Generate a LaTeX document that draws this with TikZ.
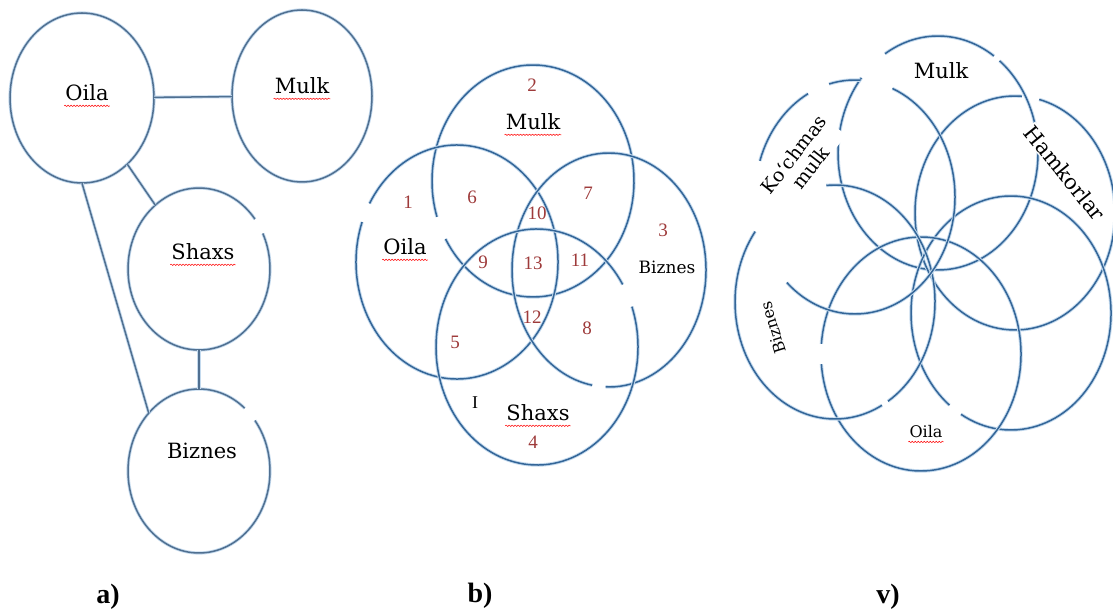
\documentclass[tikz,border=0pt]{standalone}
\usepackage{fontspec}
\setmainfont{DejaVu Serif}
\newfontfamily\libser{Liberation Serif}
\usetikzlibrary{shapes.geometric,decorations.pathmorphing}
\definecolor{lineA}{RGB}{80,112,145}
\definecolor{lineB}{RGB}{52,102,152}
\definecolor{halo}{RGB}{196,218,238}
\definecolor{numred}{RGB}{158,58,58}
\newcommand{\earc}[7]{\draw[#1] (#2,#3) ++(#6:#4pt and #5pt) arc[start angle=#6,end angle=#7,x radius=#4pt,y radius=#5pt];}
\begin{document}
\begin{tikzpicture}[x=1pt,y=1pt,
  bub/.style={ellipse,inner sep=0pt},
  lab/.style={font=\fontsize{21}{24}\selectfont, inner sep=1pt},
  num/.style={font=\libser\fontsize{19}{21}\selectfont, text=numred, inner sep=0pt},
  capt/.style={font=\libser\bfseries\fontsize{28}{30}\selectfont},
  squig/.style={draw=red, line width=0.5pt, decorate, decoration={snake,amplitude=0.7pt,segment length=3pt}},
  link/.style={draw=lineA, line width=1.5pt, preaction={draw=halo, line width=3.2pt}},
  ca/.style={draw=lineA, line width=1.5pt, preaction={draw=halo, line width=3.2pt}},
  cb/.style={draw=lineB, line width=1.5pt, preaction={draw=halo, line width=3.4pt}},
  vlab/.style={fill=white, inner sep=1pt},
]
\useasboundingbox (0,0) rectangle (1113,613);
\fill[white] (0,0) rectangle (1113,613);

% ---------- panel a ----------
\node[bub, minimum width=144pt, minimum height=170pt] (oA) at (82,515) {};
\node[bub, minimum width=140pt, minimum height=172pt] (mA) at (302,517) {};
\node[bub, minimum width=142pt, minimum height=162pt] (sA) at (199,344) {};
\node[bub, minimum width=142pt, minimum height=164pt] (bA) at (199,142) {};
\earc{ca}{82}{515}{72}{85}{0}{360}
\earc{ca}{302}{517}{70}{86}{0}{360}
\earc{ca}{199}{344}{71}{81}{38}{386}
\earc{ca}{199}{142}{71}{82}{50}{398}
\draw[link] (oA) -- (mA);
\draw[link] (oA) -- (sA);
\draw[link] (oA.south) -- (bA.north west);
\draw[link] (sA) -- (bA);
\node[lab] (toA) at (87,520) {Oila};
\node[lab] (tmA) at (302,527) {Mulk};
\node[lab] (tsA) at (203,361) {Shaxs};
\node[lab] (tbA) at (202,162) {Biznes};
\draw[squig] ([yshift=-5pt]toA.base west) -- ([yshift=-5pt]toA.base east);
\draw[squig] ([yshift=-5pt]tmA.base west) -- ([yshift=-5pt]tmA.base east);
\draw[squig] ([yshift=-5pt]tsA.base west) -- ([yshift=-5pt]tsA.base east);
\node[capt] (capa) at (108,16) {a)};

% ---------- panel b ----------
\earc{cb}{533}{432}{101}{116}{210}{558}
\earc{cb}{457}{351}{101}{117}{160}{510}
\earc{cb}{609}{343}{97}{117}{-92}{260}
\earc{cb}{537}{266}{101}{118}{32}{380}
\node[lab] (tmB) at (533,491) {Mulk};
\node[lab] (toB) at (405,366) {Oila};
\node[lab, font=\fontsize{17}{20}\selectfont] (tbB) at (667,346) {Biznes};
\node[lab] (tsB) at (538,200) {Shaxs};
\draw[squig] ([yshift=-5pt]tmB.base west) -- ([yshift=-5pt]tmB.base east);
\draw[squig] ([yshift=-5pt]toB.base west) -- ([yshift=-5pt]toB.base east);
\draw[squig] ([yshift=-5pt]tsB.base west) -- ([yshift=-5pt]tsB.base east);
\node[num] (n2) at (532,528) {2};
\node[num] (n1) at (408,411) {1};
\node[num] (n6) at (472,416) {6};
\node[num] (n10) at (537,400) {10};
\node[num] (n7) at (588,420) {7};
\node[num] (n3) at (663,383) {3};
\node[num] (n9) at (483,351) {9};
\node[num] (n13) at (533,350) {13};
\node[num] (n11) at (580,353) {11};
\node[num] (n12) at (532,296) {12};
\node[num] (n5) at (455,271) {5};
\node[num] (n8) at (587,285) {8};
\node[num] (n4) at (533,171) {4};
\node[font=\libser\fontsize{18}{20}\selectfont, inner sep=0pt] (curs) at (475,210) {I};
\node[capt] (capb) at (480,17) {b)};

% ---------- panel v ----------
\earc{cb}{938}{460}{100}{117}{140}{412}
\earc{cb}{938}{460}{100}{117}{56}{122}
\earc{cb}{1015}{400}{100}{117}{86}{436}
\earc{cb}{1011}{300}{100}{117}{-120}{232}
\earc{cb}{921}{259}{100}{117}{185}{535}
\earc{cb}{835}{311}{100}{117}{-58}{95}
\earc{cb}{835}{311}{100}{117}{143}{298}
\earc{cb}{855}{416}{100}{117}{-133}{68}
\earc{cb}{855}{416}{100}{117}{87}{105}
\earc{cb}{855}{416}{100}{117}{118}{162}
\node[lab, vlab] (tmV) at (941,542) {Mulk};
\node[lab, vlab, rotate=-51, font=\fontsize{21}{24}\selectfont] (thV) at (1065,440) {Hamkorlar};
\node[lab, vlab, rotate=52, align=center, font=\fontsize{19}{21}\selectfont] (tkV) at (802,452) {Ko`chmas\\mulk};
\node[lab, vlab, rotate=107, font=\fontsize{16}{18}\selectfont] (tbV) at (773,285) {Biznes};
\node[lab, vlab, font=\fontsize{16}{18}\selectfont] (toV) at (926,181) {Oila};
\draw[squig] ([yshift=-4pt]toV.base west) -- ([yshift=-4pt]toV.base east);
\node[capt] (capv) at (888,16) {v)};
\end{tikzpicture}
\end{document}
